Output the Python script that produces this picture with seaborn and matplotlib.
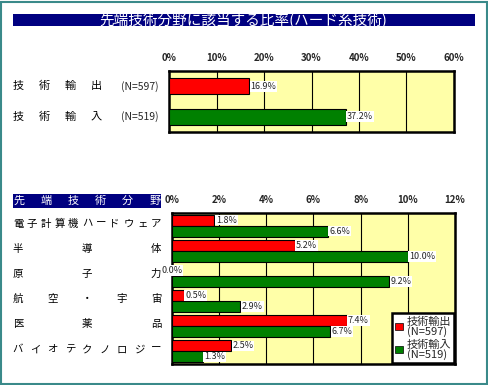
import pandas as pd
import matplotlib.pyplot as plt
import seaborn as sns
from matplotlib.patches import Rectangle, Patch
from matplotlib.transforms import blended_transform_factory

# ==========================
# Data
# ==========================

top_groups = ["技術輸出", "技術輸入"]
top_n = ["(N=597)", "(N=519)"]
top_values = [16.9, 37.2]

fields = ["電子計算機ハードウェア", "半導体", "原子力", "航空・宇宙", "医薬品", "バイオテクノロジー"]
export_values = [1.8, 5.2, 0.0, 0.5, 7.4, 2.5]
import_values = [6.6, 10.0, 9.2, 2.9, 6.7, 1.3]

top_ticks = [0, 10, 20, 30, 40, 50, 60]
bottom_ticks = [0, 2, 4, 6, 8, 10, 12]

RED = "#FF0000"
GREEN = "#008000"
YELLOW = "#FFFFA8"
NAVY = "#000080"

sns.set_style("white")
plt.rcParams["font.family"] = ["Noto Sans CJK JP", "DejaVu Sans"]

W, H = 489, 385
fig = plt.figure(figsize=(W / 100, H / 100), dpi=100)
fig.patch.set_facecolor("white")


def fx(px):
    return px / W


def fy(py):
    return 1 - py / H


def spread_on(ax, text, x0, x1, y, size, color="black"):
    # spread the characters evenly across the label column
    trans = blended_transform_factory(fig.transFigure, ax.transData)
    n = len(text)
    for i, ch in enumerate(text):
        x = x0 + (x1 - x0) * i / (n - 1) if n > 1 else x0
        ax.text(fx(x), y, ch, transform=trans, ha="center", va="center",
                fontsize=size, color=color, clip_on=False)


def style_axes(ax, xmax, ticks):
    ax.set_facecolor(YELLOW)
    ax.set_xlim(0, xmax)
    ax.set_xticks(ticks)
    ax.set_xticklabels([f"{t}%" for t in ticks], fontsize=7, fontweight="bold")
    ax.xaxis.tick_top()
    ax.tick_params(axis="x", length=0, pad=6)
    ax.set_yticks([])
    ax.set_xlabel("")
    ax.set_ylabel("")
    ax.grid(axis="x", color="black", lw=0.8, zorder=0)
    for s in ax.spines.values():
        s.set_linewidth(1.8)
        s.set_color("black")
    for c in ax.containers:
        anns = ax.bar_label(c, fmt="{:.1f}%", padding=1, fontsize=6.5,
                            bbox=dict(fc="white", ec="none", pad=0.6))
        for ann, v in zip(anns, c.datavalues):
            if v == 0:
                ann.set_horizontalalignment("center")
                ann.xyann = (0, 0)


# outer frame
fig.patches.append(Rectangle((fx(1), fy(384)), fx(486), 382 / H, transform=fig.transFigure,
                             fill=False, ec="#3A8A8A", lw=1.5))

# title bar
fig.patches.append(Rectangle((fx(13), fy(26)), fx(462), 12 / H, transform=fig.transFigure,
                             fc=NAVY, ec="none"))
fig.text(fx(243), fy(20), "先端技術分野に該当する比率(ハード系技術)", color="white",
         ha="center", va="center", fontsize=10.5)

# ==========================
# Top chart
# ==========================

ax1 = fig.add_axes([fx(169), fy(132), fx(285), 61 / H])
df_top = pd.DataFrame({"group": top_groups, "value": top_values})
sns.barplot(data=df_top, y="group", x="value", hue="group", palette=[RED, GREEN],
            saturation=1, width=0.52, edgecolor="black", linewidth=0.8, legend=False,
            ax=ax1, zorder=3)
style_axes(ax1, 60, top_ticks)
trans1 = blended_transform_factory(fig.transFigure, ax1.transData)
for i, g in enumerate(top_groups):
    spread_on(ax1, g, 18, 96, i, 8)
    ax1.text(fx(140), i, top_n[i], transform=trans1, ha="center", va="center",
             fontsize=7.5, clip_on=False)

# ==========================
# Bottom chart
# ==========================

ax2 = fig.add_axes([fx(172), fy(364), fx(283), 151 / H])
df_bot = pd.DataFrame({
    "field": fields * 2,
    "kind": ["技術輸出"] * len(fields) + ["技術輸入"] * len(fields),
    "value": export_values + import_values,
})
sns.barplot(data=df_bot, y="field", x="value", hue="kind", hue_order=["技術輸出", "技術輸入"],
            palette=[RED, GREEN], saturation=1, width=0.88, edgecolor="black", linewidth=0.8,
            legend=False, ax=ax2, zorder=3)
style_axes(ax2, 12, bottom_ticks)
for i, f in enumerate(fields):
    spread_on(ax2, f, 18, 156, i - 0.08, 7.5)

# header box for the category column
fig.patches.append(Rectangle((fx(13), fy(208)), fx(148), 14 / H, transform=fig.transFigure,
                             fc=NAVY, ec="none"))
head = "先端技術分野"
for i, ch in enumerate(head):
    x = 19 + (155 - 19) * i / (len(head) - 1)
    fig.text(fx(x), fy(201), ch, color="white", ha="center", va="center", fontsize=8)

handles = [Patch(fc=RED, ec="black", lw=0.5), Patch(fc=GREEN, ec="black", lw=0.5)]
leg = ax2.legend(handles, ["技術輸出\n(N=597)", "技術輸入\n(N=519)"], loc="lower right",
                 bbox_to_anchor=(1.0, 0.0), fontsize=8, frameon=True, fancybox=False,
                 handlelength=0.7, handleheight=0.6, handletextpad=0.3, labelspacing=0.2,
                 borderpad=0.3, borderaxespad=0.05)
for t in leg.get_texts():
    t.set_linespacing(0.95)
leg.get_frame().set_edgecolor("black")
leg.get_frame().set_linewidth(1.8)
leg.get_frame().set_facecolor("white")
leg.get_frame().set_alpha(1)
leg.set_zorder(10)

fig.savefig("out.png", dpi=100)
